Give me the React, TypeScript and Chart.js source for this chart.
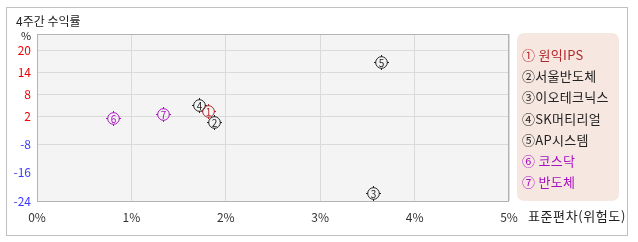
import React, { useEffect, useRef } from 'react';
import { Chart, registerables } from 'chart.js';
Chart.register(...registerables);

// ---- data ----
const names = ['원익IPS', '서울반도체', '이오테크닉스', 'SK머티리얼', 'AP시스템', '코스닥', '반도체'];
const marks = ['①', '②', '③', '④', '⑤', '⑥', '⑦'];
const digits = ['1', '2', '3', '4', '5', '6', '7'];
const riskX = [1.81, 1.87, 3.56, 1.72, 3.64, 0.81, 1.33];
const returnY = [3.4, -0.2, -21.8, 5.0, 16.8, 1.2, 2.5];
const yTickValues = [-24, -16, -8, 2, 8, 14, 20];
const xTickValues = [0, 1, 2, 3, 4, 5];
const legendSpace = [' ', '', '', '', '', ' ', ' '];

// ---- style ----
const colors = ['#b3262a', '#222222', '#222222', '#222222', '#222222', '#a812c2', '#a812c2'];
const FONT = "'Noto Sans CJK KR', 'Noto Sans', sans-serif";
// axis layout: relative slot of each y tick along the (non-uniform) value axis
const ySlots = [0, 28.33, 56.67, 85, 107, 129, 151];
const ySlotMax = 167;

function toSlot(v: number): number {
  const t = yTickValues;
  let i = 0;
  if (v <= t[0]) i = 0;
  else if (v >= t[t.length - 1]) i = t.length - 2;
  else {
    while (i < t.length - 2 && v > t[i + 1]) i++;
  }
  const f = (v - t[i]) / (t[i + 1] - t[i]);
  return ySlots[i] + f * (ySlots[i + 1] - ySlots[i]);
}

function makeMarker(color: string, digit: string): HTMLCanvasElement {
  const c = document.createElement('canvas');
  c.width = 17;
  c.height = 17;
  const g = c.getContext('2d')!;
  g.strokeStyle = color;
  g.fillStyle = color;
  g.lineWidth = 1;
  g.beginPath();
  g.arc(8.5, 8.5, 5.8, 0, Math.PI * 2);
  g.stroke();
  // small spikes
  g.fillRect(8, 1, 1, 2);
  g.fillRect(8, 14, 1, 2);
  g.fillRect(1, 8, 2, 1);
  g.fillRect(14, 8, 2, 1);
  g.font = `10px ${FONT}`;
  g.textAlign = 'center';
  g.textBaseline = 'middle';
  g.fillText(digit, 8.5, 9);
  return c;
}

const plotFrame = {
  id: 'plotFrame',
  beforeDraw(chart: any) {
    const { ctx, chartArea: a } = chart;
    ctx.save();
    ctx.fillStyle = '#f4f4f4';
    ctx.fillRect(a.left, a.top, a.right - a.left, a.bottom - a.top);
    ctx.restore();
  },
  beforeDatasetsDraw(chart: any) {
    const { ctx, chartArea: a } = chart;
    ctx.save();
    ctx.strokeStyle = '#b4b4b4';
    ctx.lineWidth = 1;
    ctx.strokeRect(Math.round(a.left) + 0.5, Math.round(a.top) + 0.5, Math.round(a.right - a.left) - 1, Math.round(a.bottom - a.top));
    ctx.restore();
  },
};

const markerImages = names.map((_, i) => makeMarker(colors[i], digits[i]));

const circledMarkers = {
  id: 'circledMarkers',
  afterDatasetsDraw(chart: any) {
    const { ctx } = chart;
    for (let d = chart.data.datasets.length - 1; d >= 0; d--) {
      const meta = chart.getDatasetMeta(d);
      meta.data.forEach((pt: any) => {
        ctx.drawImage(markerImages[d], Math.round(pt.x) - 8, Math.round(pt.y) - 8);
      });
    }
  },
};

export default function App() {
  const ref = useRef<HTMLCanvasElement>(null);
  useEffect(() => {
    const datasets = names.map((n, i) => ({
      label: n,
      data: [{ x: riskX[i], y: toSlot(returnY[i]) }],
      pointRadius: 0,
      borderColor: colors[i],
      backgroundColor: colors[i],
    }));
    const chart = new Chart(ref.current!, {
      type: 'scatter',
      data: { datasets },
      plugins: [plotFrame, circledMarkers],
      options: {
        responsive: false,
        animation: false,
        layout: { padding: { left: 0, top: 34, right: 129, bottom: 0 } },
        plugins: { legend: { display: false }, tooltip: { enabled: false } },
        scales: {
          x: {
            type: 'linear',
            min: 0,
            max: 5,
            afterBuildTicks: (s: any) => {
              s.ticks = xTickValues.map((v) => ({ value: v }));
            },
            afterFit: (s: any) => {
              s.height = 41;
            },
            grid: { color: '#dadada', drawTicks: false },
            border: { display: false },
            ticks: {
              padding: 9,
              color: '#333',
              font: { family: FONT, size: 12 },
              maxRotation: 0,
              callback: (v: any) => `${v}%`,
            },
          },
          y: {
            type: 'linear',
            min: 0,
            max: ySlotMax,
            afterBuildTicks: (s: any) => {
              s.ticks = ySlots.map((v) => ({ value: v }));
            },
            afterFit: (s: any) => {
              s.width = 37;
            },
            grid: {
              drawTicks: false,
              color: (c: any) => (c.index === 1 ? 'rgba(0,0,0,0)' : '#dadada'),
            },
            border: { display: false },
            ticks: {
              padding: 6,
              font: { family: FONT, size: 12 },
              color: (c: any) => (yTickValues[c.index] > 0 ? '#f00000' : '#3a3aff'),
              callback: (_v: any, i: number) => `${yTickValues[i]}`,
            },
          },
        },
      },
    });
    return () => chart.destroy();
  }, []);

  return (
    <div style={{ position: 'fixed', left: 0, top: 0, width: 638, height: 242, background: '#fff', fontFamily: FONT }}>
      <div
        style={{
          position: 'absolute',
          left: 6,
          top: 7,
          width: 622,
          height: 229,
          boxSizing: 'border-box',
          border: '1px solid #c0c0c0',
        }}
      />
      <canvas ref={ref} width={638} height={242} style={{ position: 'absolute', left: 0, top: 0 }} />
      <div style={{ position: 'absolute', left: 16, top: 12, fontSize: 12, lineHeight: '18px', color: '#222', whiteSpace: 'pre' }}>
        4주간 수익률
      </div>
      <div style={{ position: 'absolute', left: 21, top: 28, fontSize: 11, lineHeight: '14px', color: '#222' }}>%</div>
      <div
        style={{
          position: 'absolute',
          left: 528,
          top: 207,
          fontSize: 13,
          lineHeight: '18px',
          letterSpacing: 0.6,
          color: '#222',
          whiteSpace: 'pre',
        }}
      >
        표준편차(위험도)
      </div>
      <div
        style={{
          position: 'absolute',
          left: 517,
          top: 33,
          width: 102,
          height: 168,
          background: '#f6e7e0',
          borderRadius: 7,
        }}
      >
        {names.map((n, i) => (
          <div
            key={n}
            style={{
              position: 'absolute',
              left: 5,
              top: 12 + i * 21.2,
              fontSize: 13,
              lineHeight: '20px',
              color: colors[i],
              whiteSpace: 'pre',
              letterSpacing: 0.3,
            }}
          >
            {marks[i] + legendSpace[i] + n}
          </div>
        ))}
      </div>
    </div>
  );
}
